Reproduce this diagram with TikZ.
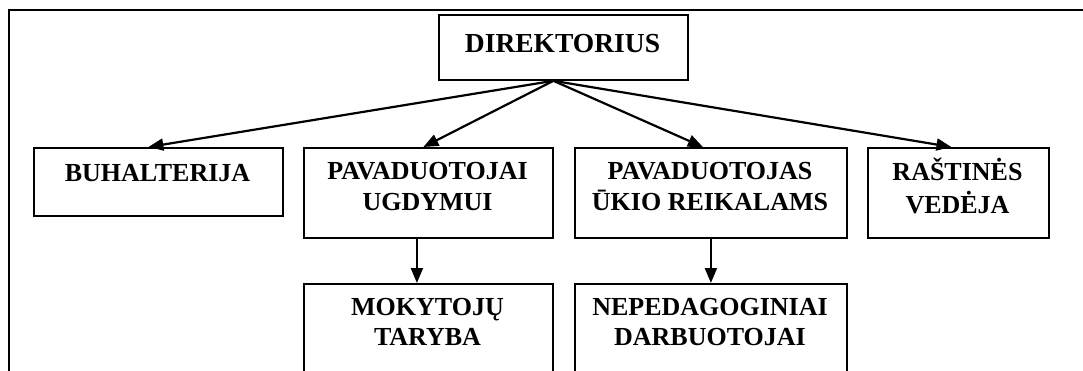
\documentclass[tikz,border=0pt]{standalone}
\usepackage{fontspec}
\setmainfont{Liberation Serif}
\usetikzlibrary{arrows.meta}
\begin{document}
\begin{tikzpicture}[x=1pt,y=-1pt,
  boxnode/.style={draw, line width=1.8pt, inner sep=0pt, anchor=north west},
  txt/.style={anchor=north, inner sep=0pt, align=center, font=\fontsize{26}{30.5}\selectfont\bfseries},
  arr/.style={line width=2.2pt, -{Triangle[length=15pt,width=12pt]}},
  frame/.style={line width=2.6pt}]
\useasboundingbox (0,0) rectangle (1083,370);
\clip (0,0) rectangle (1083,370);
% outer frame (top and left sides)
\coordinate (fl) at (9,372);
\coordinate (ftl) at (9,10);
\coordinate (ftr) at (1085,10);
\draw[frame] (fl) -- (ftl) -- (ftr);
% boxes
\node[boxnode, minimum width=249pt, minimum height=65pt] (dir) at (438,14) {};
\node[boxnode, minimum width=249pt, minimum height=68pt] (buh) at (33,147) {};
\node[boxnode, minimum width=249pt, minimum height=90pt] (pav) at (303,147) {};
\node[boxnode, minimum width=272pt, minimum height=90pt] (ukio) at (574,147) {};
\node[boxnode, minimum width=181pt, minimum height=90pt] (ras) at (867,147) {};
\node[boxnode, minimum width=249pt, minimum height=130pt] (mok) at (303,283) {};
\node[boxnode, minimum width=272pt, minimum height=130pt] (nep) at (574,283) {};
% texts
\node[txt, font=\fontsize{27.5}{30.5}\selectfont\bfseries] (tdir) at (562.5,30.65) {\strut DIREKTORIUS};
\node[txt] (tbuh) at (157.5,159.65) {\strut BUHALTERIJA};
\node[txt] (tpav) at (427.5,158.15) {\strut PAVADUOTOJAI\\\strut UGDYMUI};
\node[txt] (tukio) at (710,158.15) {\strut PAVADUOTOJAS\\\strut ŪKIO REIKALAMS};
\node[txt] (tras) at (957.5,158.15) {\strut RAŠTINĖS\\\strut VEDĖJA};
\node[txt] (tmok) at (427.5,293.65) {\strut MOKYTOJŲ\\\strut TARYBA};
\node[txt] (tnep) at (710,293.65) {\strut NEPEDAGOGINIAI\\\strut DARBUOTOJAI};
% connectors
\coordinate (hub) at ([xshift=-10pt]dir.south);
\draw[arr] (hub) -- ([xshift=-10pt]buh.north);
\draw[arr] (hub) -- ([xshift=-5pt]pav.north);
\draw[arr] (hub) -- ([xshift=-8pt]ukio.north);
\draw[arr] (hub) -- ([xshift=-7pt]ras.north);
\draw[arr] ([xshift=-11.5pt]pav.south) -- ([xshift=-11.5pt]mok.north);
\draw[arr] (ukio.south) -- (nep.north);
\end{tikzpicture}
\end{document}
